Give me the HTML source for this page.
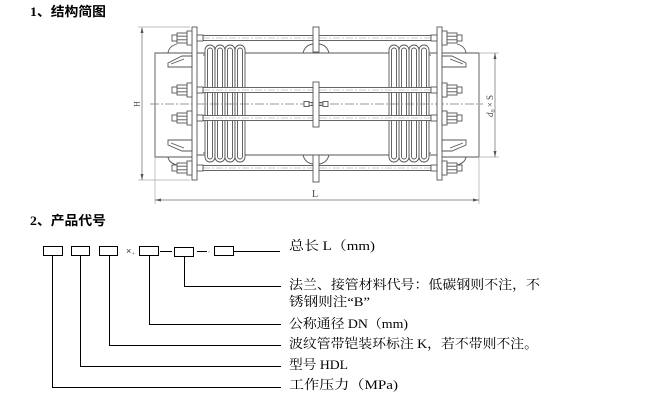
<!DOCTYPE html>
<html>
<head>
<meta charset="utf-8">
<style>
  html,body{margin:0;padding:0;background:#fff;}
  body{width:647px;height:401px;overflow:hidden;}
  svg{display:block;}
  .ln{stroke:#555;stroke-width:0.9;fill:none;}
  .wf{stroke:#555;stroke-width:0.9;fill:#fff;}
  .cl{stroke:#777;stroke-width:0.7;fill:none;stroke-dasharray:9 2 2 2;}
  .rc{stroke:#999;stroke-width:0.5;fill:none;stroke-dasharray:7 2 2 2;}
  .dim{stroke:#666;stroke-width:0.7;fill:none;}
  .ext{stroke:#aaa;stroke-width:0.7;fill:none;}
  .k{stroke:#000;stroke-width:1;fill:none;}
  .kb{stroke:#000;stroke-width:1;fill:#fff;}
  .h{font-family:"Liberation Serif","Noto Sans CJK SC",sans-serif;font-weight:bold;font-size:13px;fill:#000;}
  .t{font-family:"Liberation Serif","Noto Serif CJK SC","Noto Sans CJK SC",serif;font-size:13px;fill:#000;}
  .lab{font-family:"Liberation Serif",serif;fill:#444;}
</style>
</head>
<body>
<svg width="647" height="401" viewBox="0 0 647 401" xmlns="http://www.w3.org/2000/svg">
  <rect x="0" y="0" width="647" height="401" fill="#fff"/>

  <!-- headings -->
  <text class="h" x="30" y="16" textLength="76" lengthAdjust="spacingAndGlyphs">1、结构简图</text>
  <text class="h" x="30" y="225" textLength="76" lengthAdjust="spacingAndGlyphs">2、产品代号</text>

  <defs>
    <g id="partA">
      <!-- pipe stub -->
      <path class="ln" d="M192,53 H155 V157 H192"/>
      <!-- bellows -->
      <rect class="wf" x="205" y="45" width="10" height="117" rx="5" ry="5"/>
      <rect class="wf" x="215" y="45" width="10" height="117" rx="5" ry="5"/>
      <rect class="wf" x="225" y="45" width="10" height="117" rx="5" ry="5"/>
      <rect class="wf" x="235" y="45" width="10" height="117" rx="5" ry="5"/>
      <rect class="ln" x="207.5" y="48" width="5" height="111" rx="2.5" ry="2.5"/>
      <rect class="ln" x="217.5" y="48" width="5" height="111" rx="2.5" ry="2.5"/>
      <rect class="ln" x="227.5" y="48" width="5" height="111" rx="2.5" ry="2.5"/>
      <rect class="ln" x="237.5" y="48" width="5" height="111" rx="2.5" ry="2.5"/>
      <line class="ln" x1="203" y1="55" x2="205" y2="55"/>
      <line class="ln" x1="203" y1="153" x2="205" y2="153"/>
    </g>
    <g id="nut">
      <rect class="wf" x="187" y="-7" width="5" height="14"/>
      <rect class="wf" x="177" y="-5" width="10" height="10"/>
      <line class="ln" x1="177" y1="-1.8" x2="187" y2="-1.8"/>
      <line class="ln" x1="177" y1="1.8" x2="187" y2="1.8"/>
      <rect class="wf" x="172" y="-3" width="5" height="6"/>
      <rect class="wf" x="197" y="-3" width="6" height="6"/>
    </g>
    <g id="partB">
      <!-- flange -->
      <rect class="wf" x="192" y="27" width="5" height="153"/>
      <!-- lugs -->
      <path class="ln" d="M168,53 Q169,46 177,44"/>
      <path class="ln" d="M168,157 Q169,163 177,165"/>
      <!-- gussets -->
      <path class="wf" d="M168,63 L182,56 H192 V67 H168 Z"/>
      <line class="ln" x1="171" y1="64" x2="184" y2="59"/>
      <path class="wf" d="M168,140 H192 V151 H182 L168,145 Z"/>
      <line class="ln" x1="171" y1="143" x2="184" y2="148"/>
      <!-- nuts -->
      <use href="#nut" transform="translate(0,38)"/>
      <use href="#nut" transform="translate(0,90)"/>
      <use href="#nut" transform="translate(0,118)"/>
      <use href="#nut" transform="translate(0,168)"/>
    </g>
  </defs>

  <!-- inner pipe lines -->
  <line class="ln" x1="197" y1="53" x2="437" y2="53"/>
  <line class="ln" x1="197" y1="155" x2="437" y2="155"/>

  <use href="#partA"/>
  <use href="#partA" transform="matrix(-1,0,0,1,634,0)"/>

  <!-- centerline -->
  <line class="cl" x1="150" y1="104" x2="483" y2="104"/>

  <!-- rods -->
  <rect class="wf" x="203" y="35.5" width="228" height="5"/>
  <line class="rc" x1="203" y1="38" x2="431" y2="38"/>
  <rect class="wf" x="203" y="87.5" width="228" height="5"/>
  <line class="rc" x1="203" y1="90" x2="431" y2="90"/>
  <rect class="wf" x="203" y="115.5" width="228" height="5"/>
  <line class="rc" x1="203" y1="118" x2="431" y2="118"/>
  <rect class="wf" x="203" y="165.5" width="228" height="5"/>
  <line class="rc" x1="203" y1="168" x2="431" y2="168"/>

  <use href="#partB"/>
  <use href="#partB" transform="matrix(-1,0,0,1,634,0)"/>

  <!-- middle plates -->
  <path class="ln" d="M303,53 Q305,45 313,44"/>
  <path class="ln" d="M329,53 Q327,45 319,44"/>
  <path class="ln" d="M303,155 Q305,163 313,164"/>
  <path class="ln" d="M329,155 Q327,163 319,164"/>
  <rect class="wf" x="313" y="27" width="6" height="25"/>
  <rect class="wf" x="313" y="82" width="6" height="45"/>
  <rect class="wf" x="313" y="155" width="6" height="27"/>
  <!-- middle fitting -->
  <rect class="wf" x="304" y="101.5" width="5" height="5"/>
  <rect class="wf" x="323" y="101.5" width="5" height="5"/>
  <line class="ln" x1="309" y1="102.5" x2="313" y2="102.5"/>
  <line class="ln" x1="309" y1="105.5" x2="313" y2="105.5"/>
  <line class="ln" x1="319" y1="102.5" x2="323" y2="102.5"/>
  <line class="ln" x1="319" y1="105.5" x2="323" y2="105.5"/>

  <!-- H dimension -->
  <line class="ext" x1="138" y1="27" x2="190" y2="27"/>
  <line class="ext" x1="138" y1="180" x2="190" y2="180"/>
  <line class="dim" x1="142" y1="28" x2="142" y2="180"/>
  <path d="M142,27 L140.5,33 L143.5,33 Z" fill="#555"/>
  <path d="M142,180 L140.5,174 L143.5,174 Z" fill="#555"/>
  <text class="lab" font-size="8" transform="translate(139.5,104) rotate(-90)" text-anchor="middle">H</text>

  <!-- L dimension -->
  <line class="ext" x1="155" y1="158" x2="155" y2="204"/>
  <line class="ext" x1="479" y1="158" x2="479" y2="204"/>
  <line class="dim" x1="155" y1="200" x2="479" y2="200"/>
  <path d="M155,200 L161,198.5 L161,201.5 Z" fill="#555"/>
  <path d="M479,200 L473,198.5 L473,201.5 Z" fill="#555"/>
  <text class="lab" font-size="10" x="312" y="197">L</text>

  <!-- d0 x S dimension -->
  <line class="ext" x1="479" y1="53" x2="499" y2="53"/>
  <line class="ext" x1="479" y1="157" x2="499" y2="157"/>
  <line class="dim" x1="495" y1="53" x2="495" y2="157"/>
  <path d="M495,53 L493.5,59 L496.5,59 Z" fill="#555"/>
  <path d="M495,157 L493.5,151 L496.5,151 Z" fill="#555"/>
  <text class="lab" font-size="9" font-style="italic" transform="translate(493,106) rotate(-90)" text-anchor="middle">d<tspan font-size="6" dy="2">0</tspan><tspan dy="-2" font-style="normal"> × S</tspan></text>

  <!-- product code boxes -->
  <rect class="kb" x="43.5" y="246.5" width="19" height="9"/>
  <rect class="kb" x="71.5" y="246.5" width="18" height="9"/>
  <rect class="kb" x="99.5" y="246.5" width="18" height="9"/>
  <text x="126" y="254" font-family="Liberation Sans, sans-serif" font-size="9" fill="#333">×</text>
  <text x="132" y="255" font-family="Liberation Sans, sans-serif" font-size="5" fill="#777">+</text>
  <rect class="kb" x="139.5" y="246.5" width="19" height="9"/>
  <line class="k" x1="160" y1="251.5" x2="172" y2="251.5"/>
  <rect class="kb" x="174.5" y="247.5" width="19" height="9"/>
  <line class="k" x1="197" y1="251.5" x2="207" y2="251.5"/>
  <rect x="208.5" y="251.5" width="1" height="1" fill="#888"/>
  <rect class="kb" x="214.5" y="246.5" width="19" height="9"/>
  <line class="k" x1="233.5" y1="251.5" x2="280" y2="251.5"/>

  <!-- leader lines -->
  <path class="k" d="M184.5,256.5 V286.5 H281"/>
  <path class="k" d="M149.5,255.5 V324.5 H281"/>
  <path class="k" d="M109.5,255.5 V345.5 H281"/>
  <path class="k" d="M80.5,255.5 V366.5 H281"/>
  <path class="k" d="M52.5,255.5 V387.5 H281"/>

  <!-- labels -->
  <text class="t" x="289" y="250" textLength="86" lengthAdjust="spacingAndGlyphs">总长 L（mm)</text>
  <text class="t" x="289" y="289" textLength="251" lengthAdjust="spacingAndGlyphs">法兰、接管材料代号：低碳钢则不注，不</text>
  <text class="t" x="289" y="306" textLength="81" lengthAdjust="spacingAndGlyphs">锈钢则注“B”</text>
  <text class="t" x="289" y="328" textLength="119" lengthAdjust="spacingAndGlyphs">公称通径 DN（mm)</text>
  <text class="t" x="289" y="348" textLength="249" lengthAdjust="spacingAndGlyphs">波纹管带铠装环标注 K，若不带则不注。</text>
  <text class="t" x="289" y="369" textLength="59" lengthAdjust="spacingAndGlyphs">型号 HDL</text>
  <text class="t" x="289" y="389" textLength="109" lengthAdjust="spacingAndGlyphs">工作压力（MPa)</text>
</svg>
</body>
</html>
